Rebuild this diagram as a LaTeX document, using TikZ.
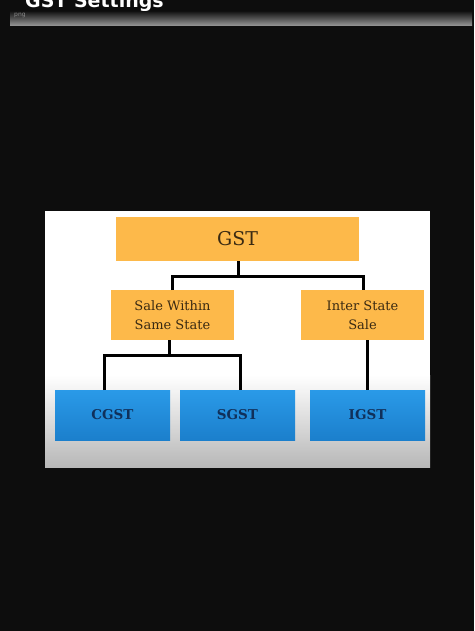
\documentclass[tikz,border=0pt]{standalone}
\usepackage{fontspec}
\setmainfont{DejaVu Serif}
\newfontfamily\titlefont{DejaVu Sans}
\definecolor{orangebox}{HTML}{FDB94A}
\definecolor{bluetop}{HTML}{2A9AE8}
\definecolor{bluebot}{HTML}{1B7FCC}
\definecolor{navytext}{HTML}{10305A}
\definecolor{browntext}{HTML}{3A2A12}
\begin{document}
\begin{tikzpicture}[x=1pt,y=-1pt,
  orbox/.style={fill=orangebox,draw=none,font=\fontsize{13}{19}\selectfont,text=browntext,align=center},
  blbox/.style={top color=bluetop,bottom color=bluebot,draw=none,font=\bfseries\fontsize{13.5}{16}\selectfont,text=navytext},
  conn/.style={draw=black,line width=3pt}]
\useasboundingbox (0,0) rectangle (474,631);
\clip (0,0) rectangle (474,631);
\fill[black!95!white] (0,0) rectangle (474,631);
% title bar
\node[anchor=base west,text=white,font=\titlefont\bfseries\fontsize{19}{22}\selectfont,inner sep=0] (title) at (25,8) {GST Settings};
\shade[top color=black!90,bottom color=black!40] (10,12) rectangle (472,26);
\node[anchor=west,text=black!45,font=\titlefont\fontsize{6}{7}\selectfont,inner sep=0] (png) at (14,15) {png};
% slide
\fill[white] (45,211) rectangle (430,467);
\shade[top color=white,bottom color=black!28] (45,375) rectangle (430,467);
% nodes
\node[orbox,minimum width=243pt,minimum height=44pt,font=\fontsize{19}{22}\selectfont] (gst) at (237.5,239) {GST};
\node[orbox,minimum width=123pt,minimum height=50pt] (same) at (172.5,315) {Sale Within\\Same State};
\node[orbox,minimum width=123pt,minimum height=50pt] (inter) at (362.5,315) {Inter State\\Sale};
\node[blbox,minimum width=115pt,minimum height=50pt] (cgst) at (112.5,415) {CGST};
\node[blbox,minimum width=115pt,minimum height=50pt] (sgst) at (237.5,415) {SGST};
\node[blbox,minimum width=115pt,minimum height=50pt] (igst) at (367.5,415) {IGST};
% connectors
\coordinate (j1) at (238,276);
\coordinate (j2) at (169,355);
\draw[conn] (gst.south -| j1) -- (j1);
\draw[conn] (172,290) |- (j1) -| (363,290);
\draw[conn] (same.south -| j2) -- (j2);
\draw[conn] (104,390) |- (j2) -| (240,390);
\draw[conn] (inter.south -| igst.north) -- (igst.north);
\end{tikzpicture}
\end{document}
